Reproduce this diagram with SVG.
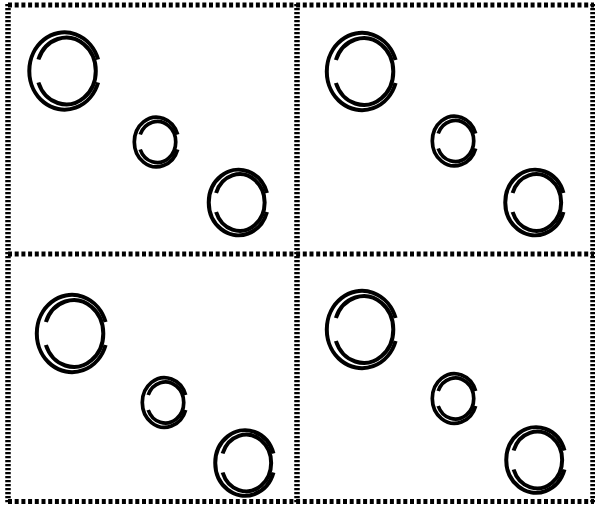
<svg xmlns="http://www.w3.org/2000/svg" xmlns:xlink="http://www.w3.org/1999/xlink" width="595" height="508" viewBox="0 0 595 508">
<style>
.ring{fill:none;stroke:#000;stroke-width:4;stroke-linecap:butt}
.hl{fill:none;stroke:#000;stroke-width:5;stroke-dasharray:4 2.7}
.vl{fill:none;stroke:#000;stroke-width:5.5;stroke-dasharray:2.2 1.8}
</style>
<defs>
<g id="big">
<path class="ring" d="M33.6,-11.5 A35.2,38.7 0 1 0 33.6,11.5"/>
<path class="ring" d="M-26.1,-11.5 A29.6,33.4 0 1 1 -26.1,11.5"/>
</g>
<g id="med">
<path class="ring" d="M28.47,-9.5 A29.75,32.75 0 1 0 28.47,9.5"/>
<path class="ring" d="M-22.4,-9.5 A25,28.3 0 1 1 -22.4,9.5"/>
</g>
<g id="sml">
<path class="ring" style="stroke-width:3.7" d="M21.16,-7.5 A22.2,24.8 0 1 0 21.16,7.5"/>
<path class="ring" style="stroke-width:3.7" d="M-16.3,-7.5 A18.4,20.6 0 1 1 -16.3,7.5"/>
</g>
</defs>
<rect width="595" height="508" fill="#fff"/>
<g id="borders">
<line class="hl" x1="8" y1="5" x2="594" y2="5"/>
<line class="hl" x1="8" y1="254" x2="594" y2="254"/>
<line class="hl" x1="8" y1="501.5" x2="594" y2="501.5"/>
<line class="vl" x1="8" y1="4" x2="8" y2="503"/>
<line class="vl" x1="297" y1="4" x2="297" y2="503"/>
<line class="vl" x1="593" y1="4" x2="593" y2="503"/>
</g>
<g id="panel-tl">
<use xlink:href="#big" transform="translate(64.5,71)"/>
<use xlink:href="#sml" transform="translate(156.5,142)"/>
<use xlink:href="#med" transform="translate(238.5,202.5)"/>
</g>
<g id="panel-tr">
<use xlink:href="#big" transform="translate(362,71.5)"/>
<use xlink:href="#sml" transform="translate(454.5,141)"/>
<use xlink:href="#med" transform="translate(535,202.5)"/>
</g>
<g id="panel-bl">
<use xlink:href="#big" transform="translate(72,333.5)"/>
<use xlink:href="#sml" transform="translate(164.5,402.5)"/>
<use xlink:href="#med" transform="translate(245,463)"/>
</g>
<g id="panel-br">
<use xlink:href="#big" transform="translate(362,329.5)"/>
<use xlink:href="#sml" transform="translate(454.5,398.5)"/>
<use xlink:href="#med" transform="translate(536,460)"/>
</g>
</svg>
